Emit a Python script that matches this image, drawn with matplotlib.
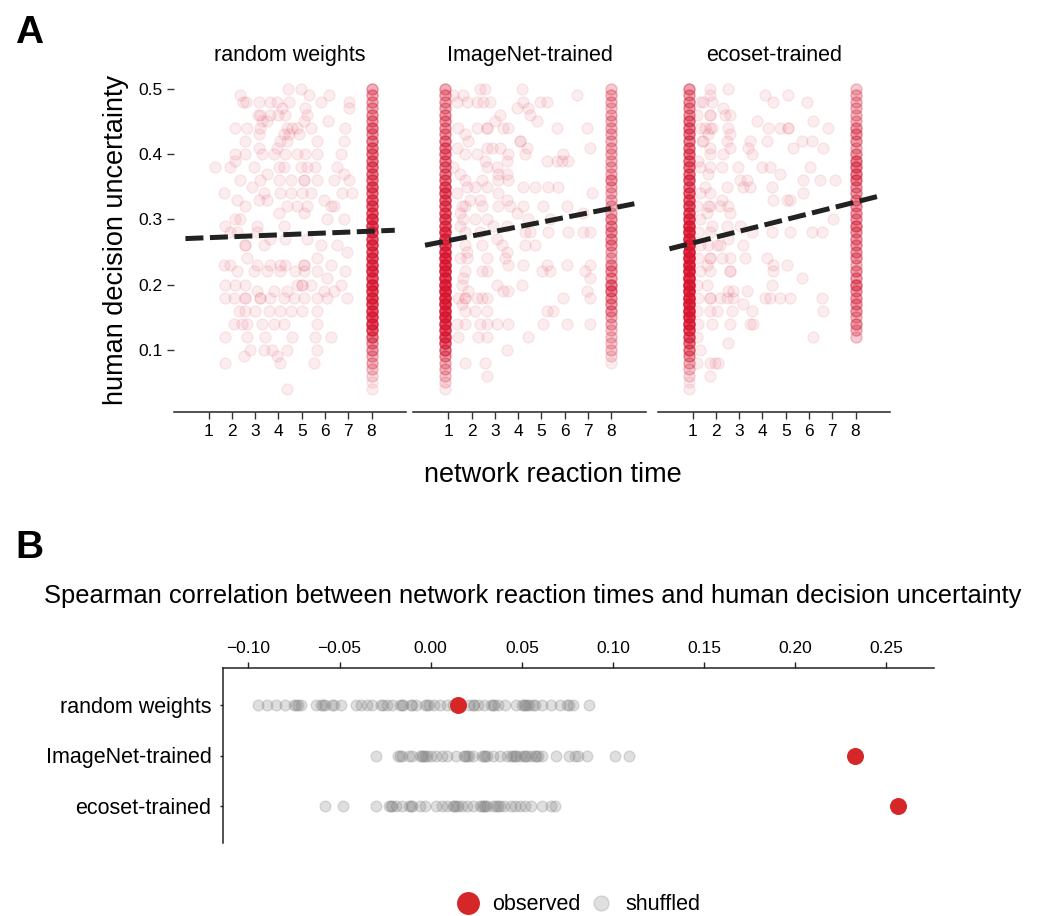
import numpy as np
import matplotlib.pyplot as plt
from matplotlib.lines import Line2D

plt.rcParams['font.family'] = ['Liberation Sans', 'DejaVu Sans']

models = ['random weights', 'ImageNet-trained', 'ecoset-trained']

# human uncertainty levels used by the stacked columns
y_levels = [0.50, 0.49, 0.48, 0.47, 0.46, 0.45, 0.44, 0.43, 0.42, 0.41,
            0.40, 0.39, 0.38, 0.37, 0.36, 0.35, 0.34, 0.33, 0.32, 0.31,
            0.30, 0.29, 0.28, 0.27, 0.26, 0.25, 0.24, 0.23, 0.22, 0.21,
            0.20, 0.19, 0.18, 0.17, 0.16, 0.15, 0.14, 0.13, 0.12, 0.11,
            0.10, 0.09, 0.08, 0.07, 0.06, 0.05, 0.04]

# number of images per level in the columns (never reached threshold / first step)
rand_col8 = [5, 5, 5, 5, 6, 6, 8, 6, 8, 8,
             8, 9, 9, 9, 9, 11, 9, 11, 11, 11,
             14, 14, 14, 12, 14, 12, 14, 14, 15, 14,
             15, 14, 15, 14, 14, 14, 15, 12, 9, 6,
             6, 4, 4, 3, 2, 1, 1]
img_col1 = [5, 5, 5, 5, 6, 6, 6, 6, 8, 8,
            8, 8, 8, 8, 9, 11, 11, 11, 11, 11,
            12, 12, 14, 15, 15, 15, 17, 17, 17, 18,
            18, 18, 18, 18, 17, 18, 15, 14, 14, 11,
            9, 6, 4, 4, 3, 2, 1]
img_col8 = [3, 4, 4, 3, 4, 4, 4, 4, 4, 4,
            4, 4, 4, 4, 6, 4, 4, 4, 4, 4,
            6, 6, 6, 6, 6, 4, 4, 6, 6, 6,
            8, 8, 6, 6, 6, 4, 4, 3, 3, 3,
            3, 2, 1, 0, 0, 0, 0]
eco_col1 = [6, 5, 6, 6, 6, 8, 8, 8, 8, 8,
            9, 9, 9, 9, 11, 9, 11, 11, 12, 12,
            14, 17, 18, 18, 20, 20, 20, 20, 20, 21,
            21, 20, 20, 20, 20, 18, 17, 14, 12, 9,
            8, 6, 4, 3, 2, 1, 1]
eco_col8 = [3, 4, 4, 4, 4, 4, 6, 6, 6, 4,
            6, 8, 8, 8, 8, 6, 6, 6, 6, 6,
            6, 8, 6, 6, 6, 6, 6, 4, 6, 6,
            8, 6, 6, 6, 6, 4, 6, 4, 3, 0,
            0, 0, 0, 0, 0, 0, 0]

# remaining images: (network reaction time, human decision uncertainty)
rand_pts = [
    (4.40, .50), (4.95, .50), (2.33, .49), (5.30, .49), (6.16, .49),
    (2.48, .48), (2.62, .48), (3.15, .48), (3.65, .48), (3.94, .48), (5.81, .48), (7.03, .48), (4.44, .48),
    (7.03, .47), (4.16, .47), (5.16, .47),
    (3.11, .46), (3.22, .46), (3.65, .46), (3.97, .46), (4.30, .46), (5.23, .46),
    (6.12, .45), (5.09, .45), (3.30, .45), (3.51, .45),
    (2.15, .44), (2.65, .44), (3.20, .44), (4.37, .44), (4.59, .44), (4.80, .44), (5.38, .44), (6.88, .44),
    (3.15, .43), (4.23, .43), (4.44, .43), (4.87, .43),
    (2.54, .42), (6.81, .42), (5.66, .42), (4.08, .42), (4.37, .42),
    (3.15, .41), (3.94, .41),
    (2.15, .40), (2.58, .40), (3.30, .40), (3.80, .40), (4.30, .40), (4.80, .40), (5.16, .40), (5.66, .40), (6.67, .40),
    (2.15, .39),
    (1.29, .38), (1.93, .38), (2.94, .38), (4.01, .38), (4.23, .38), (4.95, .38), (5.23, .38), (5.59, .38), (6.52, .38),
    (3.51, .37), (6.81, .37),
    (7.03, .36), (2.36, .36), (3.22, .36), (4.01, .36), (4.52, .36), (5.09, .36), (5.09, .36), (5.66, .36), (6.38, .36),
    (2.87, .35),
    (1.65, .34), (3.37, .34), (4.08, .34), (4.52, .34), (5.02, .34), (5.38, .34), (6.74, .34), (7.17, .34),
    (5.95, .33), (2.22, .33), (3.15, .33), (3.51, .33),
    (2.58, .32), (4.37, .32), (4.80, .32), (5.23, .32), (6.24, .32), (6.38, .32),
    (4.01, .31), (5.09, .31),
    (2.15, .30), (2.36, .30), (6.09, .30), (6.81, .30),
    (1.72, .29), (3.08, .29), (4.23, .29),
    (1.93, .28), (2.22, .28), (3.08, .28),
    (3.65, .27), (4.30, .27), (5.23, .27),
    (5.81, .26), (6.52, .26), (2.58, .26), (2.58, .26), (3.37, .26),
    (6.95, .25),
    (2.65, .24), (5.66, .24),
    (3.08, .23), (3.65, .23), (4.08, .23), (4.30, .23), (5.09, .23), (5.09, .23), (6.24, .23), (1.65, .23), (1.93, .23),
    (2.22, .22), (2.94, .22), (3.51, .22), (4.08, .22), (4.73, .22), (5.09, .22), (5.66, .22), (6.88, .22),
    (6.09, .21),
    (1.72, .20), (2.15, .20), (2.58, .20), (4.80, .20), (5.02, .20), (5.02, .20), (5.38, .20), (6.67, .20),
    (3.08, .19), (3.80, .19), (4.37, .19), (5.95, .19), (6.38, .19),
    (1.72, .18), (2.08, .18), (2.58, .18), (2.58, .18), (3.22, .18), (3.22, .18), (3.65, .18), (4.23, .18),
    (4.66, .18), (5.09, .18), (5.66, .18), (6.09, .18), (6.95, .18),
    (2.29, .16), (2.58, .16), (3.01, .16), (3.58, .16), (4.08, .16), (4.52, .16), (5.02, .16), (5.66, .16),
    (2.08, .14), (2.43, .14), (2.65, .14), (3.30, .14), (3.80, .14), (4.23, .14), (5.66, .14),
    (1.72, .12), (2.65, .12), (3.44, .12), (4.59, .12), (5.59, .12), (6.24, .12),
    (2.79, .10), (3.37, .10), (3.73, .10), (4.37, .10), (5.66, .10), (2.51, .09), (3.94, .09),
    (1.72, .08), (4.08, .08), (5.52, .08), (4.37, .04),
]

img_pts = [
    (2.36, .50), (2.58, .50), (4.16, .50),
    (1.22, .49), (1.65, .49), (6.52, .49),
    (1.79, .48), (1.36, .48), (2.22, .48), (2.51, .48), (2.79, .48), (4.23, .48), (4.95, .48), (5.23, .48),
    (3.94, .47), (4.44, .47),
    (4.52, .46), (3.22, .46),
    (4.80, .45), (3.01, .45),
    (3.37, .44), (3.58, .44), (2.65, .44), (2.65, .44), (2.22, .44), (1.43, .44), (5.66, .44), (6.95, .44),
    (1.72, .43),
    (1.86, .42), (4.08, .42), (4.08, .42),
    (1.36, .41), (2.65, .41), (2.87, .41), (3.22, .41), (4.37, .41), (7.10, .41),
    (1.72, .40), (2.22, .40), (3.58, .40), (4.30, .40), (5.95, .40),
    (3.51, .39), (2.58, .39), (5.23, .39), (5.66, .39), (5.88, .39), (6.16, .39),
    (2.65, .38), (3.08, .38), (1.22, .38),
    (3.15, .37), (3.51, .37), (1.50, .37),
    (1.72, .36), (2.43, .36), (3.15, .36), (3.58, .36),
    (1.79, .35), (2.15, .35), (2.65, .35), (4.23, .35), (4.73, .35), (5.30, .35), (5.73, .35),
    (1.36, .34), (3.15, .34), (7.17, .34),
    (1.93, .33), (2.36, .33), (3.51, .33),
    (3.65, .32), (3.15, .32), (2.43, .32), (1.72, .32), (4.23, .32), (5.09, .32), (6.09, .32), (1.57, .32),
    (1.50, .31), (3.94, .31), (6.81, .31),
    (2.15, .30), (2.65, .30), (4.44, .30), (5.38, .30), (1.65, .30),
    (3.51, .29), (2.94, .29), (1.50, .29),
    (1.72, .28), (2.36, .28), (4.30, .28), (4.52, .28), (5.30, .28), (6.16, .28), (6.81, .28), (7.10, .28),
    (3.08, .27),
    (1.72, .26), (3.30, .26), (4.30, .26), (4.73, .26), (2.43, .26),
    (3.51, .25), (1.79, .25),
    (1.50, .24), (1.79, .24), (2.65, .24), (3.44, .24),
    (3.58, .23), (4.23, .23), (5.23, .23), (6.09, .23), (7.10, .23),
    (1.72, .22), (5.38, .22), (5.02, .22), (6.88, .22), (2.43, .22), (2.65, .22),
    (7.10, .21), (1.65, .21),
    (1.57, .20), (3.08, .20), (4.16, .20),
    (3.37, .19), (3.58, .19), (6.95, .19), (1.86, .19),
    (5.95, .18), (7.10, .18), (1.43, .18), (1.72, .18), (1.72, .18), (2.22, .18), (2.43, .18), (2.65, .18),
    (1.57, .17),
    (1.72, .16), (2.15, .16), (2.65, .16), (5.23, .16), (5.52, .16),
    (1.36, .14), (1.72, .14), (2.36, .14), (2.65, .14), (3.08, .14), (3.58, .14), (5.09, .14), (6.09, .14), (7.10, .14),
    (1.43, .12), (2.29, .12), (2.65, .12), (4.44, .12),
    (3.51, .10), (1.72, .08), (2.58, .08), (2.65, .06),
]

eco_pts = [
    (1.74, .50), (1.74, .49), (1.46, .48), (1.82, .48), (1.74, .46), (1.74, .46), (1.53, .44), (1.82, .44),
    (1.74, .44), (1.67, .43), (1.46, .42), (1.74, .41), (1.74, .40), (1.74, .38), (1.67, .37), (1.53, .35),
    (1.74, .34), (1.67, .32), (1.74, .32), (1.60, .31), (1.82, .29), (1.74, .28), (1.67, .26), (1.74, .24),
    (1.74, .24), (1.60, .23), (1.74, .22), (1.60, .20), (1.74, .18), (1.74, .18), (1.74, .16), (1.82, .14),
    (1.74, .08), (1.74, .06),
    (1.31, .48), (1.17, .46), (1.31, .44), (1.39, .42), (1.24, .39), (1.31, .38), (1.31, .34), (1.17, .32),
    (1.31, .30), (1.24, .28), (1.31, .26), (1.24, .24), (1.31, .22), (1.17, .20), (1.24, .18), (1.17, .16),
    (1.24, .14), (1.17, .12), (1.31, .10), (1.17, .08),
    (2.53, .50), (2.60, .46), (2.53, .44), (2.60, .43), (2.46, .42), (2.60, .41), (2.32, .40), (2.25, .38),
    (2.46, .35), (2.25, .33), (2.53, .32), (2.17, .32), (2.60, .31), (2.46, .29), (2.53, .27), (2.17, .26),
    (2.60, .24), (2.60, .22), (2.60, .22), (2.53, .19), (2.46, .18), (2.67, .16), (2.60, .14), (2.53, .11),
    (2.03, .16), (2.17, .18), (2.10, .08), (1.96, .08), (2.29, .47), (2.39, .46), (2.03, .26), (2.25, .24),
    (4.11, .49), (5.11, .49), (4.46, .48), (5.90, .48), (3.75, .45), (6.18, .45), (6.83, .44), (4.25, .44),
    (4.75, .44), (5.11, .44), (5.11, .44), (3.46, .42), (3.39, .41), (3.53, .40), (4.18, .42), (5.68, .42),
    (6.11, .42), (6.61, .41), (5.32, .41), (2.96, .38), (3.96, .38), (4.32, .38), (4.75, .37), (6.04, .38),
    (5.75, .36), (6.47, .36), (7.11, .36), (3.03, .36), (3.32, .36), (3.46, .35), (3.18, .35), (4.39, .35),
    (4.46, .33), (5.04, .33), (5.18, .33), (5.75, .34), (7.04, .30), (3.03, .29), (3.53, .28), (4.39, .28),
    (5.18, .28), (6.11, .28), (6.54, .28), (3.18, .26), (3.25, .24), (4.18, .24), (4.46, .23), (5.04, .23),
    (5.68, .21), (4.46, .22), (4.39, .20), (3.32, .19), (4.11, .18), (4.32, .18), (4.75, .18), (5.18, .18),
    (6.54, .18), (6.61, .16), (3.53, .16), (3.46, .14), (3.61, .14), (6.18, .12), (2.75, .18), (3.18, .17),
    (2.75, .19),
]

# column x positions for each panel
rand_cols = [(8, rand_col8)]
img_cols = [(0.88, img_col1), (8, img_col8)]
eco_cols = [(0.86, eco_col1), (8, eco_col8)]

# dashed regression lines: (intercept, slope)
fits = [(0.2704, 0.00142), (0.2602, 0.00707), (0.2547, 0.00897)]

# panel B: spearman correlations
observed = [0.0148, 0.2329, 0.2562]
shuf_rand = [-0.095, -0.090, -0.085, -0.080, -0.075, -0.074, -0.073, -0.071, -0.063, -0.060,
             -0.059, -0.058, -0.054, -0.053, -0.049, -0.041, -0.038, -0.035, -0.032, -0.027,
             -0.026, -0.024, -0.021, -0.017, -0.016, -0.015, -0.011, -0.010, -0.008, -0.003,
             -0.002, -0.001, 0.002, 0.005, 0.009, 0.012, 0.016, 0.021, 0.023, 0.024,
             0.026, 0.029, 0.033, 0.034, 0.035, 0.037, 0.041, 0.047, 0.050, 0.051,
             0.052, 0.053, 0.054, 0.056, 0.057, 0.061, 0.066, 0.071, 0.075, 0.076,
             0.078, 0.087]
shuf_img = [-0.030, -0.018, -0.017, -0.016, -0.012, -0.010, -0.006, -0.005, -0.004, -0.003,
            -0.002, 0.000, 0.003, 0.006, 0.009, 0.014, 0.018, 0.019, 0.020, 0.021,
            0.023, 0.028, 0.029, 0.030, 0.031, 0.034, 0.038, 0.042, 0.044, 0.045,
            0.046, 0.047, 0.049, 0.051, 0.052, 0.053, 0.055, 0.057, 0.058, 0.059,
            0.061, 0.069, 0.076, 0.079, 0.081, 0.086, 0.101, 0.109]
shuf_eco = [-0.058, -0.048, -0.030, -0.023, -0.022, -0.021, -0.019, -0.016, -0.012, -0.011,
            -0.010, -0.006, -0.003, 0.003, 0.006, 0.009, 0.012, 0.013, 0.014, 0.015,
            0.017, 0.020, 0.023, 0.027, 0.028, 0.029, 0.030, 0.031, 0.034, 0.036,
            0.037, 0.038, 0.040, 0.044, 0.046, 0.049, 0.052, 0.055, 0.061, 0.066,
            0.068]

red = '#d8142f'
obs_red = '#d62728'
W, H = 1039, 916

fig = plt.figure(figsize=(W / 100, H / 100), dpi=100)

# ---- panel A ----
lefts = [173.8, 413.4, 657.8]
for i, (pts, cols) in enumerate(zip([rand_pts, img_pts, eco_pts], [rand_cols, img_cols, eco_cols])):
    ax = fig.add_axes([lefts[i] / W, 1 - 411.7 / H, 232.6 / W, (411.7 - 66) / H])
    xs = [p[0] for p in pts]
    ys = [p[1] for p in pts]
    for cx, counts in cols:
        for lev, n in zip(y_levels, counts):
            xs += [cx] * n
            ys += [lev] * n
    ax.scatter(xs, ys, s=64, color=red, alpha=0.08, linewidths=1, zorder=2)
    b0, b1 = fits[i]
    lx = np.array([0, 9])
    ax.plot(lx, b0 + b1 * lx, color='#222222', lw=3.6, ls=(0, (3.6, 1.3)), zorder=3)
    ax.set_xlim(-0.5, 9.5)
    ax.set_ylim(0.005, 0.535)
    ax.set_xticks(range(1, 9))
    ax.tick_params(axis='x', labelsize=12.5, length=5, width=1, pad=3.5, color='#333333')
    for s in ['top', 'right', 'left']:
        ax.spines[s].set_visible(False)
    ax.spines['bottom'].set_linewidth(1.1)
    ax.spines['bottom'].set_color('#222222')
    ax.set_title(models[i], fontsize=15.5, pad=3)
    if i == 0:
        ax.set_yticks([0.1, 0.2, 0.3, 0.4, 0.5])
        ax.tick_params(axis='y', labelsize=12.5, length=5, width=1, pad=3, color='#333333')
    else:
        ax.set_yticks([])

fig.text(553 / W, 1 - 482 / H, 'network reaction time', ha='center', va='baseline', fontsize=19.5)
fig.text(116 / W, 1 - 240 / H, 'human decision uncertainty', ha='center', va='center',
         rotation=90, fontsize=19.5)

# ---- panel B ----
axb = fig.add_axes([222.7 / W, 1 - 843.3 / H, 711.3 / W, 175.6 / H])
for row, vals in enumerate([shuf_rand, shuf_img, shuf_eco]):
    axb.scatter(vals, [row] * len(vals), s=60, color='gray', alpha=0.25, linewidths=1, zorder=2)
axb.scatter(observed, [0, 1, 2], s=150, color=obs_red, linewidths=0, zorder=3)
axb.set_xlim(-0.1141, 0.2761)
axb.set_ylim(2.75, -0.75)
axb.set_xticks([-0.10, -0.05, 0.00, 0.05, 0.10, 0.15, 0.20, 0.25])
axb.set_yticks([0, 1, 2])
axb.set_yticklabels(models)
axb.xaxis.tick_top()
axb.tick_params(axis='x', labelsize=12.5, length=4, width=1, pad=4.5, color='#222222')
axb.tick_params(axis='y', labelsize=15.5, length=2.5, width=1, pad=5.5, color='#222222')
for s in ['bottom', 'right']:
    axb.spines[s].set_visible(False)
for s in ['top', 'left']:
    axb.spines[s].set_linewidth(1.1)
    axb.spines[s].set_color('#222222')

fig.text(533 / W, 1 - 603 / H,
         'Spearman correlation between network reaction times and human decision uncertainty',
         ha='center', va='baseline', fontsize=18.4)

handles = [Line2D([], [], ls='none', marker='o', ms=16.5, color=obs_red, mew=0),
           Line2D([], [], ls='none', marker='o', ms=10.8, color='gray', alpha=0.25, mew=1)]
fig.legend(handles, ['observed', 'shuffled'], loc='center', bbox_to_anchor=(579 / W, 1 - 905 / H),
           ncol=2, frameon=False, fontsize=15.5, handlelength=1.0, handletextpad=0.62,
           columnspacing=0.45, borderpad=0)

fig.text(15 / W, 1 - 43 / H, 'A', fontsize=28, fontweight='bold', ha='left', va='baseline')
fig.text(15 / W, 1 - 558 / H, 'B', fontsize=28, fontweight='bold', ha='left', va='baseline')

fig.savefig('out.png', dpi=100)
